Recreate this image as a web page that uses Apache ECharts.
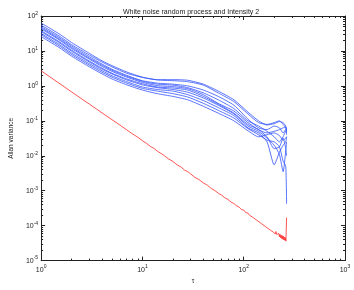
<!DOCTYPE html>
<html><head><meta charset="utf-8">
<script src="https://cdn.jsdelivr.net/npm/echarts@6/dist/echarts.min.js"></script>
<style>html,body{margin:0;padding:0;background:#fff}#c{width:354px;height:290px}</style>
</head><body><div id="c"></div>
<script>
// tau sample points for the blue realisations
const tau = [1,1.5,2,3,4,5,7,10,14,20,28,40,56,80,110,140,170,200,225,245,260,265];
const blue1 = [63,31,17.4,8.5,5.2,3.8,2.5,1.78,1.48,1.41,1.32,1.05,0.63,0.355,0.158,0.089,0.079,0.089,0.1,0.079,0.063,0.05];
const blue2 = [55,27,15.1,7.6,4.8,3.5,2.3,1.74,1.51,1.51,1.45,1.12,0.71,0.40,0.178,0.1,0.076,0.083,0.095,0.089,0.071,0.056];
const blue3 = [50,24.5,13.8,6.8,4.2,3.0,2.0,1.41,1.2,1.12,1.0,0.76,0.5,0.28,0.112,0.063,0.056,0.071,0.063,0.045,0.056,0.04];
const blue4 = [46,22.4,12.6,6.2,3.9,2.8,1.9,1.35,1.12,1.05,0.89,0.63,0.40,0.224,0.1,0.071,0.05,0.035,0.025,0.035,0.05,0.045];
const blue5 = [43,21,11.7,5.8,3.6,2.6,1.78,1.26,1.02,0.95,0.83,0.56,0.316,0.19,0.089,0.056,0.045,0.05,0.056,0.063,0.066,0.05];
const blue6 = [38,18.6,10.5,5.1,3.2,2.3,1.58,1.15,0.93,0.87,0.76,0.5,0.30,0.166,0.079,0.056,0.035,0.016,0.018,0.032,0.016,0.01];
const blue7 = [35.5,17.4,9.8,4.8,3.0,2.2,1.48,1.07,0.89,0.79,0.66,0.45,0.28,0.158,0.071,0.05,0.032,0.02,0.011,0.0035,0.014,0.025];
const blue8 = [31.6,15.5,8.7,4.3,2.7,1.95,1.32,0.93,0.79,0.71,0.56,0.38,0.24,0.141,0.063,0.045,0.025,0.0055,0.0126,0.02,0.025,0.035];
const blue9 = [29,14.1,7.9,3.9,2.45,1.78,1.2,0.85,0.71,0.6,0.48,0.316,0.2,0.12,0.06,0.04,0.028,0.025,0.018,0.007,0.005,0.00042];
const blue10 = [25.7,12.6,7.1,3.5,2.2,1.58,1.07,0.76,0.6,0.5,0.4,0.26,0.166,0.1,0.052,0.035,0.04,0.045,0.038,0.028,0.032,0.035];
// red (averaged) curve
const redTau = [1,1.5,2,2.5,3,3.5,4,5,6,7,8,9,10,11,12,13,14,16,18,20,22,24,26,28,30,33,36,40,44,48,52,56,60,65,70,75,80,85,90,95,100,105,110,115,120,125,130,135,140,145,150,155,160,165,170,175,180,185,190,195,200,205,208,212,215,218,222,225,228,231,234,237,240,243,246,249,252,255,258,261,264,265];
const redVal = [2.7,1.2,0.67,0.43,0.30,0.22,0.168,0.108,0.076,0.055,0.042,0.034,0.027,0.0225,0.0185,0.0162,0.0136,0.0107,0.0082,0.0069,0.0055,0.0048,0.0039,0.0035,0.0030,0.0024,0.0021,0.00167,0.00142,0.00115,0.00101,0.00085,0.00076,0.00063,0.00056,0.00047,0.00043,0.00037,0.00034,0.00029,0.00028,0.000235,0.00023,0.000195,0.000195,0.000168,0.000165,0.000142,0.000144,0.000122,0.000126,0.000106,0.00011,0.000093,0.000099,0.000082,0.000089,0.000073,0.00008,0.000066,0.000073,0.000058,0.000068,0.000056,0.000063,0.00005,0.00006,0.000048,0.000057,0.000045,0.000054,0.000043,0.000052,0.000041,0.00005,0.000039,0.000047,0.000038,0.000045,0.000036,0.000039,0.00017];
// axis ticks
const xMajor = [1,10,100,1000];
const yMajor = [1e-5,1e-4,1e-3,1e-2,1e-1,1,10,100];
const mult = [2,3,4,5,6,7,8,9];
const xMinor = [], yMinor = [];
[1,10,100].forEach(d => mult.forEach(m => xMinor.push(+(m*d).toPrecision(3))));
[1e-5,1e-4,1e-3,1e-2,1e-1,1,10].forEach(d => mult.forEach(m => yMinor.push(+(m*d).toPrecision(3))));

const blues = [blue1,blue2,blue3,blue4,blue5,blue6,blue7,blue8,blue9,blue10];
const FONT = 'Liberation Sans';
const AX = '#222';
const rich = {
  b: {fontSize: 7, fontFamily: FONT, color: AX},
  s: {fontSize: 5, fontFamily: FONT, color: AX, padding: [0,0,5,0]}
};
const fmt = v => '{b|10}{s|' + Math.round(Math.log10(v)) + '}';

function ax(kind, pos, ticks, len, line, label) {
  const isX = kind === 'x';
  return {
    type: 'log', logBase: 10,
    min: isX ? 1 : 1e-5, max: isX ? 1000 : 100,
    position: pos,
    axisLine: {show: line, onZero: false, lineStyle: {color: AX, width: 1}},
    axisTick: {show: true, inside: true, length: len, customValues: ticks, lineStyle: {color: AX, width: 1}},
    axisLabel: {show: label, customValues: ticks, formatter: fmt, rich: rich, margin: isX ? 4 : 3},
    splitLine: {show: false},
    minorTick: {show: false}
  };
}
const xs = [ax('x','bottom',xMajor,4,true,true), ax('x','top',xMajor,4,true,false), ax('x','bottom',xMinor,2,false,false), ax('x','top',xMinor,2,false,false)];
const ys = [ax('y','left',yMajor,4,true,true), ax('y','right',yMajor,4,true,false), ax('y','left',yMinor,2,false,false), ax('y','right',yMinor,2,false,false)];
xs[0].name = 'τ'; xs[0].nameLocation = 'middle'; xs[0].nameGap = 15;
xs[0].nameTextStyle = {fontSize: 6.5, fontFamily: FONT, color: AX};
ys[0].name = 'Allan variance'; ys[0].nameLocation = 'middle'; ys[0].nameGap = 19;
ys[0].nameTextStyle = {fontSize: 6.5, fontFamily: FONT, color: AX};

const series = blues.map((arr, k) => ({
  type: 'line', name: 'b' + k, xAxisIndex: 0, yAxisIndex: 0,
  data: tau.map((t, i) => [t, arr[i]]),
  showSymbol: false, smooth: 0.2, silent: true,
  lineStyle: {color: '#3050ff', width: 0.8}
}));
series.push({
  type: 'line', name: 'r', xAxisIndex: 0, yAxisIndex: 0,
  data: redTau.map((t, i) => [t, redVal[i]]),
  showSymbol: false, silent: true,
  lineStyle: {color: '#ff2a2a', width: 0.8}
});

const chart = echarts.init(document.getElementById('c'), null, {renderer: 'canvas'});
chart.setOption({
  animation: false,
  backgroundColor: '#fff',
  title: {text: 'White noise random process and Intensity 2', left: 118, top: 4,
    textStyle: {fontSize: 7, fontWeight: 'normal', fontFamily: FONT, color: AX}},
  grid: {left: 29, right: 9, top: 16, bottom: 24, containLabel: false},
  xAxis: xs, yAxis: ys, series: series
});
</script></body></html>
